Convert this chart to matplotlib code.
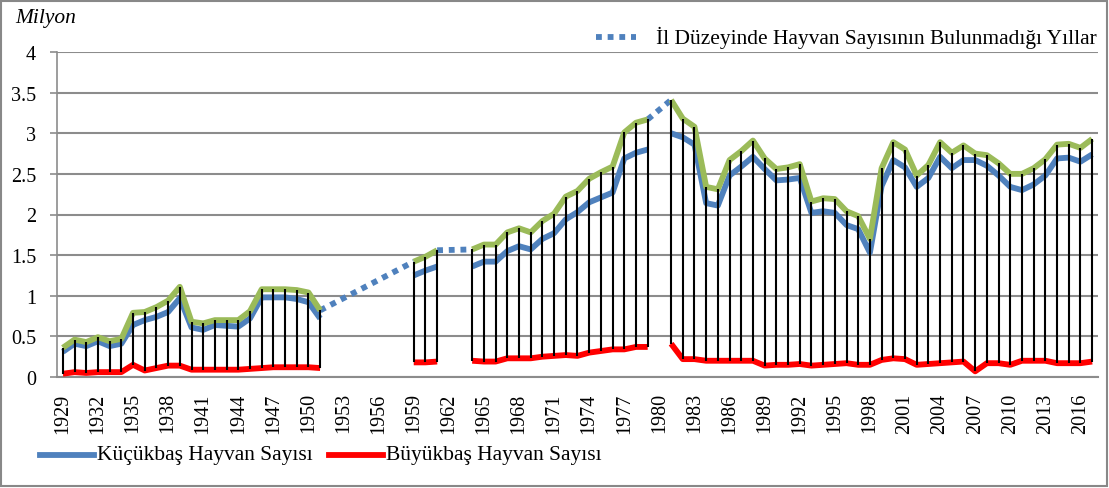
import numpy as np
import pandas as pd
import matplotlib
matplotlib.use('Agg')
import matplotlib.pyplot as plt
from matplotlib.lines import Line2D
from matplotlib.patches import Rectangle

plt.rcParams['font.family'] = ['Liberation Serif', 'DejaVu Serif']

# observed years (il level data), gaps are the years without data
years = (list(range(1929, 1952)) + list(range(1959, 1962))
         + list(range(1964, 1980)) + list(range(1981, 2018)))

# Kucukbas (small livestock), million
small = [0.31, 0.41, 0.38, 0.44, 0.38, 0.41, 0.64, 0.70, 0.74, 0.80, 0.97, 0.61,
         0.58, 0.64, 0.63, 0.62, 0.72, 0.98, 0.98, 0.98, 0.96, 0.92, 0.72,
         1.25, 1.31, 1.36,
         1.36, 1.42, 1.42, 1.55, 1.61, 1.57, 1.70, 1.77, 1.94, 2.03, 2.15, 2.21,
         2.27, 2.69, 2.76, 2.80,
         3.00, 2.95, 2.86, 2.14, 2.11, 2.48, 2.59, 2.71, 2.56, 2.42, 2.43, 2.45,
         2.02, 2.04, 2.02, 1.87, 1.82, 1.53, 2.35, 2.67, 2.58, 2.34, 2.45, 2.71,
         2.57, 2.67, 2.67, 2.60, 2.48, 2.34, 2.30, 2.37, 2.48, 2.69, 2.70, 2.65, 2.74]

# Buyukbas (large livestock), million
large = [0.04, 0.06, 0.05, 0.06, 0.06, 0.06, 0.15, 0.08, 0.11, 0.14, 0.14, 0.09,
         0.09, 0.09, 0.09, 0.09, 0.10, 0.11, 0.12, 0.12, 0.12, 0.12, 0.11,
         0.18, 0.18, 0.19,
         0.20, 0.19, 0.19, 0.23, 0.23, 0.23, 0.25, 0.26, 0.27, 0.26, 0.30, 0.32,
         0.34, 0.34, 0.37, 0.37,
         0.41, 0.22, 0.22, 0.20, 0.20, 0.20, 0.20, 0.20, 0.14, 0.15, 0.15, 0.16,
         0.14, 0.15, 0.16, 0.17, 0.15, 0.15, 0.21, 0.23, 0.22, 0.15, 0.16, 0.17,
         0.18, 0.19, 0.07, 0.17, 0.17, 0.15, 0.20, 0.20, 0.20, 0.17, 0.17, 0.17, 0.19]

# total (green line)
total = [0.36, 0.46, 0.43, 0.49, 0.44, 0.47, 0.79, 0.80, 0.86, 0.94, 1.11, 0.68,
         0.66, 0.70, 0.70, 0.70, 0.81, 1.08, 1.08, 1.08, 1.07, 1.04, 0.82,
         1.42, 1.48, 1.56,
         1.57, 1.63, 1.63, 1.78, 1.83, 1.78, 1.92, 2.01, 2.22, 2.29, 2.44, 2.52,
         2.59, 3.01, 3.13, 3.17,
         3.41, 3.18, 3.08, 2.34, 2.31, 2.67, 2.78, 2.91, 2.69, 2.56, 2.58, 2.62,
         2.16, 2.20, 2.19, 2.04, 1.98, 1.70, 2.57, 2.89, 2.80, 2.48, 2.61, 2.89,
         2.76, 2.85, 2.75, 2.73, 2.63, 2.50, 2.50, 2.57, 2.68, 2.86, 2.87, 2.82, 2.93]

# periods without data: joined with a dotted line
gaps = [(1951, 1959), (1961, 1964), (1979, 1981)]

df = pd.DataFrame({'small': small, 'large': large, 'total': total}, index=years)
full = df.reindex(range(1929, 2018))

BLUE = '#4F81BD'
GREEN = '#9BBB59'
RED = '#FF0000'
GRID = '#8C8C8C'

fig = plt.figure(figsize=(11.09, 4.89), dpi=100)
ax = fig.add_axes([57 / 1109, 1 - 378 / 489, 1041 / 1109, 325 / 489])

ax.plot(full.index, full['small'], color=BLUE, lw=4.2, solid_capstyle='butt', zorder=3)
ax.plot(full.index, full['large'], color=RED, lw=4.2, solid_capstyle='butt', zorder=3)
ax.plot(full.index, full['total'], color=GREEN, lw=4.2, solid_capstyle='butt', zorder=4)

for a, b in gaps:
    ax.plot([a, b], [df.loc[a, 'total'], df.loc[b, 'total']], color=BLUE, lw=4.2,
            linestyle=(0, (1, 1)), dash_capstyle='butt', zorder=3)

ax.vlines(df.index, df['large'], df['total'], color='black', lw=1.5, zorder=5)

ax.set_xlim(1928.5, 2017.5)
ax.set_ylim(0, 4)
ax.set_yticks(np.arange(0, 4.01, 0.5))
ax.set_yticklabels(['0', '0.5', '1', '1.5', '2', '2.5', '3', '3.5', '4'])
ax.set_xticks(range(1929, 2017, 3))
ax.set_xticklabels([str(y) for y in range(1929, 2017, 3)], rotation=90)
ax.tick_params(axis='both', labelsize=14.5, colors='black')
ax.tick_params(axis='x', length=0, pad=11)
ax.tick_params(axis='y', length=5, color=GRID, width=1.2, direction='out', pad=10)
ax.grid(axis='y', color=GRID, lw=1.5)
ax.set_axisbelow(True)
for s in ['top', 'right']:
    ax.spines[s].set_visible(False)
ax.spines['left'].set_color(GRID)
ax.spines['left'].set_linewidth(1.2)
ax.spines['bottom'].set_color(GRID)
ax.spines['bottom'].set_linewidth(1.5)

# outer chart border
fig.patches.append(Rectangle((1 / 1109, 2 / 489), 1106 / 1109, 485 / 489,
                             transform=fig.transFigure, fill=False,
                             edgecolor='#888888', lw=1.5))

fig.text(15 / 1109, 1 - 18 / 489, 'Milyon', fontsize=15.5, style='italic',
         va='center', ha='left')

# top legend (dotted series)
fig.add_artist(Line2D([596 / 1109, 636 / 1109], [1 - 38 / 489] * 2, color=BLUE,
                      lw=4.2, linestyle=(0, (1, 1)), dash_capstyle='butt',
                      transform=fig.transFigure))
fig.text(1097 / 1109, 1 - 38 / 489, 'İl Düzeyinde Hayvan Sayısının Bulunmadığı Yıllar',
         fontsize=15.5, va='center', ha='right')

# bottom legend
fig.add_artist(Line2D([40 / 1109, 94 / 1109], [1 - 456 / 489] * 2, color=BLUE, lw=4.2,
                      transform=fig.transFigure))
fig.text(97 / 1109, 1 - 456 / 489, 'Küçükbaş Hayvan Sayısı', fontsize=15.5,
         va='center', ha='left')
fig.add_artist(Line2D([329 / 1109, 383 / 1109], [1 - 456 / 489] * 2, color=RED, lw=4.2,
                      transform=fig.transFigure))
fig.text(386 / 1109, 1 - 456 / 489, 'Büyükbaş Hayvan Sayısı', fontsize=15.5,
         va='center', ha='left')

fig.savefig('out.png', dpi=100)
